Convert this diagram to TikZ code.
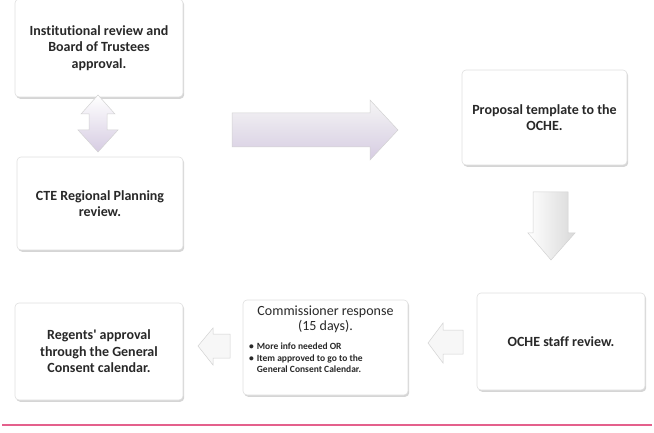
\documentclass[tikz,border=0pt]{standalone}
\usepackage{fontspec}
\setmainfont[Ligatures={NoCommon}]{Carlito}
\usetikzlibrary{shadows}
\definecolor{lav}{RGB}{214,204,226}
\definecolor{pinkline}{RGB}{228,96,140}
\definecolor{txt}{RGB}{40,40,40}
\tikzset{
  box/.style={draw=gray!25, fill=white, rounded corners=4pt, line width=0.6pt,
    drop shadow={shadow xshift=1.2pt, shadow yshift=-1.8pt, fill=gray!55, opacity=0.6}},
  btext/.style={align=center, font=\fontsize{14}{16.5}\selectfont\bfseries, text=txt},
  barrow/.style={draw=gray!35, line width=0.5pt},
}
\begin{document}
\begin{tikzpicture}[x=1pt,y=-1pt]
\useasboundingbox (0,0) rectangle (654,433);
% boxes
\node[box, minimum width=168pt, minimum height=98pt] (b1) at (99,48) {};
\node[btext] (t1) at (b1.center) {Institutional review and\\Board of Trustees\\approval.};
\node[box, minimum width=166pt, minimum height=93pt] (b2) at (100,203.5) {};
\node[btext] (t2) at (b2.center) {CTE Regional Planning\\review.};
\node[box, minimum width=165pt, minimum height=95pt] (b3) at (544.5,117.5) {};
\node[btext] (t3) at (b3.center) {Proposal template to the\\OCHE.};
\node[box, minimum width=168pt, minimum height=97pt] (b4) at (561,341.5) {};
\node[btext] (t4) at (b4.center) {OCHE staff review.};
\node[box, minimum width=165pt, minimum height=95pt] (b5) at (325.5,347.5) {};
\node[anchor=north, align=center, font=\fontsize{14}{14.5}\selectfont, text=txt, inner sep=0pt] (t5) at (325.5,306) {Commissioner response\\(15 days).};
\node[anchor=north west, align=left, font=\fontsize{9.5}{11.5}\selectfont\bfseries, text=txt, inner sep=0pt] (t5b) at (249,343) {%
  \textbullet\hspace{3pt}More info needed OR\\
  \textbullet\hspace{3pt}Item approved to go to the\\
  \phantom{\textbullet\hspace{3pt}}General Consent Calendar.};
\node[box, minimum width=168pt, minimum height=97pt] (b6) at (99,351.5) {};
\node[btext] (t6) at (b6.center) {Regents\textquotesingle\ approval\\through the General\\Consent calendar.};
% block arrows
\path[barrow, top color=white, bottom color=lav]
  (98,95) -- (115,114) -- (107,114) -- (107,130) -- (118,130) -- (98,152)
  -- (78,130) -- (89,130) -- (89,114) -- (81,114) -- cycle;
\path[barrow, top color=gray!8, bottom color=lav]
  (232,113) -- (370,113) -- (370,100) -- (398,130) -- (370,160) -- (370,147) -- (232,147) -- cycle;
\path[barrow, left color=white, right color=gray!30]
  (533,192) -- (568,192) -- (568,233) -- (575,233) -- (551,260) -- (528,233) -- (533,233) -- cycle;
\path[barrow, fill=gray!6]
  (198,346) -- (213,328) -- (213,334) -- (230,334) -- (230,358) -- (213,358) -- (213,365) -- cycle;
\path[barrow, fill=gray!6]
  (428,343) -- (443,323) -- (443,330) -- (463,330) -- (463,354) -- (443,354) -- (443,363) -- cycle;
% bottom line
\coordinate (l1) at (2,425);
\coordinate (l2) at (652,425);
\draw[pinkline, line width=1.8pt] (l1) -- (l2);
\end{tikzpicture}
\end{document}
